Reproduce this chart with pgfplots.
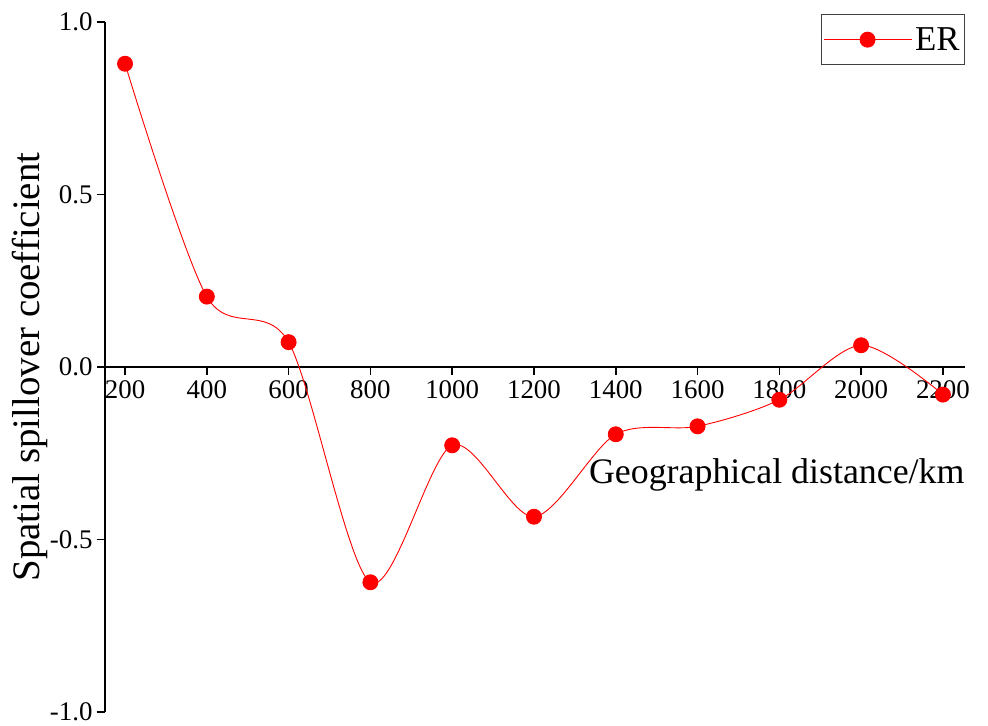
\documentclass[border=0pt]{standalone}
\usepackage{fontspec}
\setmainfont{Liberation Serif}
\usepackage{pgfplots}
\pgfplotsset{compat=1.18}
\begin{document}
\begin{tikzpicture}
\begin{axis}[
  scale only axis,
  width=860bp, height=690bp,
  xmin=151, xmax=2254,
  ymin=-1, ymax=1,
  axis x line=middle,
  axis y line=left,
  axis line style={-, line width=1.6bp, black},
  xtick={200,400,...,2200},
  ytick={-1,-0.5,0,0.5,1},
  yticklabels={-1.0,-0.5,0.0,0.5,1.0},
  xtick align=outside,
  ytick align=outside,
  major tick length=8bp,
  tick style={line width=1.6bp, black},
  /pgf/number format/assume math mode=true,
  /pgf/number format/1000 sep={},
  tick label style={font=\fontsize{27}{30}\selectfont},
  xticklabel style={yshift=-2bp},
  yticklabel style={xshift=-1bp},
  xlabel={Geographical distance/km},
  ylabel={Spatial spillover coefficient},
  every axis x label/.style={at={(rel axis cs:1,0.35)}, anchor=east, xshift=3bp, yshift=-4bp, font=\fontsize{36}{40}\selectfont},
  every axis y label/.style={at={(axis description cs:0,0.5)}, xshift=-75bp, rotate=90, anchor=center, font=\fontsize{39}{42}\selectfont},
  legend style={at={(rel axis cs:1,1.0115)}, anchor=north east, draw=black!75, line width=0.9bp,
    font=\fontsize{35}{38}\selectfont, inner xsep=2bp, inner ysep=10bp, nodes={inner sep=3bp}},
  legend image code/.code={\draw[mark repeat=2,mark phase=2] plot coordinates {(0bp,0bp)(44bp,0bp)(88bp,0bp)};},
  clip=false,
]
\addplot[red, line width=0.9bp, smooth, tension=0.5, mark=*, mark size=7.5bp, mark options={fill=red, draw=red}]
coordinates {
(200,0.879)
(400,0.204)
(600,0.072)
(800,-0.624)
(1000,-0.227)
(1200,-0.434)
(1400,-0.195)
(1600,-0.172)
(1800,-0.095)
(2000,0.063)
(2200,-0.080)
};
\addlegendentry{ER}
\end{axis}
\pgfresetboundingbox
\path (-105bp,-14bp) rectangle (883bp,712bp);
\end{tikzpicture}
\end{document}
